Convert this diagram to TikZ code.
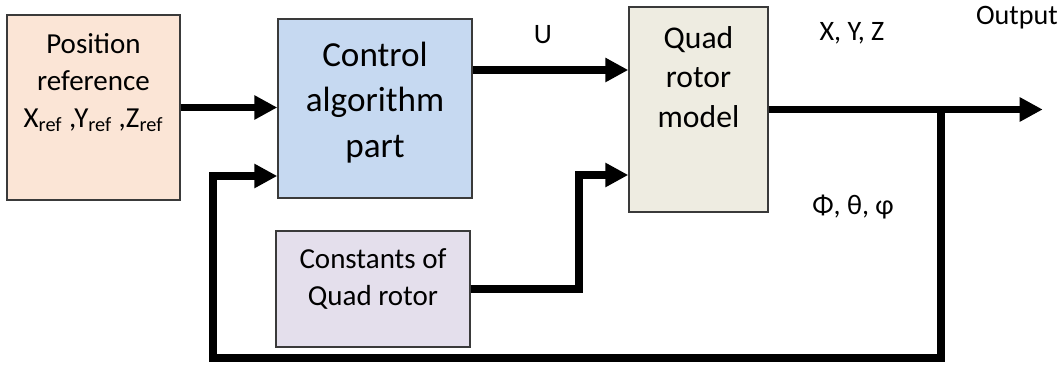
\documentclass[tikz,border=0pt]{standalone}
\usepackage{fontspec}
\setmainfont{Carlito}
\usetikzlibrary{arrows.meta,calc,positioning}
\definecolor{refpeach}{HTML}{FBE5D6}
\definecolor{ctrlblue}{HTML}{C6D9F1}
\definecolor{modelbeige}{HTML}{EEECE1}
\definecolor{constlilac}{HTML}{E4DFEC}
\definecolor{edgegray}{HTML}{3A3A3A}
\tikzset{
  block/.style={draw=edgegray,line width=0.8pt,inner sep=0pt},
  signal/.style={line width=4.4pt,-{Triangle[length=0.46cm,width=0.46cm]}},
  sigtext/.style={font=\fontsize{16}{19}\selectfont}
}

\begin{document}
\begin{tikzpicture}
\useasboundingbox (0,0) rectangle (21.26,7.3);
\node[block,fill=refpeach,minimum width=3.46cm,minimum height=3.7cm] (posref) at (1.87,5.15) {};
\node[align=center,font=\fontsize{16.5}{21}\selectfont] (posreftext) at ([yshift=0.5cm]posref) {Position\\reference\\X\textsubscript{ref} ,Y\textsubscript{ref} ,Z\textsubscript{ref}};
\node[block,fill=ctrlblue,minimum width=3.88cm,minimum height=3.58cm] (ctrl) at (7.50,5.13) {};
\node[align=center,font=\fontsize{20}{26}\selectfont] (ctrltext) at ([yshift=0.12cm]ctrl) {Control\\algorithm\\part};
\node[block,fill=modelbeige,minimum width=2.78cm,minimum height=4.10cm] (quad) at (13.97,5.11) {};
\node[align=center,font=\fontsize{18}{22.5}\selectfont] (quadtext) at ([yshift=0.65cm]quad) {Quad\\rotor\\model};
\node[block,fill=constlilac,minimum width=3.88cm,minimum height=2.32cm] (const) at (7.46,1.52) {};
\node[align=center,font=\fontsize{16.5}{21}\selectfont] (consttext) at ([yshift=0.2cm]const) {Constants of\\Quad rotor};
\coordinate (branch) at ($(quad.east)+(3.44,0)$);
\coordinate (outend) at ($(quad.east)+(5.48,0)$);
\coordinate (fbleft) at (4.26,0.14);
\draw[signal] (posref.east) -- (posref.east -| ctrl.west);
\draw[signal] ([yshift=0.77cm]ctrl.east) -- ([yshift=0.77cm]ctrl.east -| quad.west);
\draw[signal] (const.east) -- ++(2.16,0) |- ([yshift=-1.31cm]quad.west);
\draw[signal] (quad.east) -- (outend);
\draw[signal] (branch) |- (fbleft) |- ([yshift=-1.35cm]ctrl.west);
\node[sigtext] (ulabel) at (10.86,6.60) {U};
\node[sigtext] (xyzlabel) at (17.04,6.64) {X, Y, Z};
\node[sigtext] (outlabel) at (20.34,6.94) {Output};
\node[sigtext] (anglabel) at (17.06,3.16) {Φ, θ, φ};
\end{tikzpicture}
\end{document}
